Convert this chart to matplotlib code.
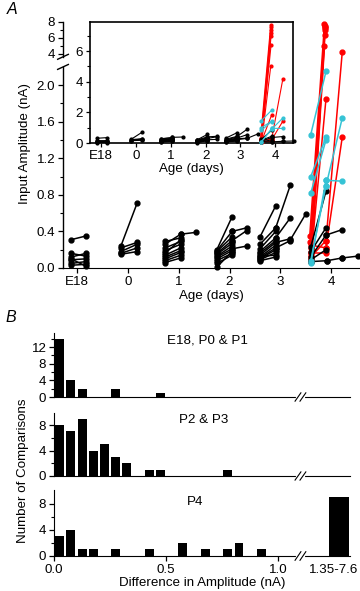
import numpy as np
import matplotlib
matplotlib.use('Agg')
import matplotlib.pyplot as plt
from matplotlib.transforms import offset_copy

plt.rcParams['font.family'] = ['Liberation Sans', 'DejaVu Sans']
plt.rcParams['font.size'] = 9.6

# Panel A: paired inputs, each entry is (age start, amp start, age end, amp end)
e18_pairs = [(-1.12, 0.31, -0.83, 0.35), (-1.12, 0.16, -0.83, 0.13), (-1.12, 0.12, -0.83, 0.16),
             (-1.12, 0.09, -0.83, 0.10), (-1.12, 0.05, -0.83, 0.07), (-1.12, 0.03, -0.83, 0.04),
             (-1.12, 0.10, -0.83, 0.02)]
p0_pairs = [(-0.14, 0.24, 0.18, 0.71), (-0.14, 0.22, 0.18, 0.28), (-0.14, 0.18, 0.18, 0.26),
            (-0.14, 0.16, 0.18, 0.22), (-0.14, 0.15, 0.18, 0.18)]
p1_pairs = [(0.73, 0.29, 1.04, 0.33), (0.73, 0.26, 1.04, 0.37), (0.73, 0.22, 1.04, 0.29),
            (0.73, 0.19, 1.04, 0.26), (0.73, 0.16, 1.04, 0.31), (0.73, 0.14, 1.04, 0.22),
            (0.73, 0.12, 1.04, 0.19), (0.73, 0.10, 1.04, 0.17), (0.73, 0.08, 1.04, 0.14),
            (0.73, 0.06, 1.04, 0.11), (1.04, 0.37, 1.34, 0.39)]
p2_pairs = [(1.75, 0.20, 2.05, 0.56), (1.75, 0.19, 2.05, 0.40), (1.75, 0.18, 2.05, 0.34),
            (1.75, 0.16, 2.05, 0.30), (1.75, 0.15, 2.05, 0.27), (1.75, 0.13, 2.05, 0.24),
            (1.75, 0.12, 2.05, 0.21), (1.75, 0.10, 2.05, 0.19), (1.75, 0.08, 2.05, 0.16),
            (1.75, 0.05, 2.05, 0.14), (1.75, 0.01, 2.05, 0.18), (2.05, 0.40, 2.34, 0.44),
            (2.05, 0.30, 2.34, 0.41), (2.05, 0.21, 2.34, 0.24)]
p3_pairs = [(2.6, 0.34, 2.91, 0.68), (2.6, 0.26, 2.91, 0.44), (2.6, 0.21, 2.91, 0.40),
            (2.6, 0.18, 2.91, 0.33), (2.6, 0.16, 2.91, 0.30), (2.6, 0.14, 2.91, 0.28),
            (2.6, 0.12, 2.91, 0.25), (2.6, 0.11, 2.91, 0.22), (2.6, 0.10, 2.91, 0.20),
            (2.6, 0.09, 2.91, 0.17), (2.6, 0.13, 2.91, 0.14), (2.6, 0.08, 2.91, 0.12),
            (2.91, 0.44, 3.2, 0.91), (2.91, 0.33, 3.2, 0.55), (2.91, 0.28, 3.2, 0.32),
            (2.91, 0.22, 3.2, 0.30), (3.2, 0.31, 3.5, 0.59)]
p4_black = [(3.6, 0.07, 3.92, 0.08), (3.92, 0.08, 4.22, 0.11), (4.22, 0.11, 4.53, 0.13),
            (3.6, 0.23, 3.9, 0.84), (3.9, 0.36, 4.22, 0.42), (3.6, 0.18, 3.9, 0.44),
            (3.6, 0.12, 3.9, 0.36), (3.6, 0.09, 3.9, 0.20)]
p4_red = [(3.58, 0.35, 3.87, 7.7), (3.59, 0.28, 3.88, 7.55), (3.6, 0.22, 3.88, 7.4),
          (3.6, 0.18, 3.88, 7.2), (3.61, 0.14, 3.88, 7.0), (3.6, 0.10, 3.88, 6.4),
          (3.61, 0.07, 3.87, 5.0), (3.62, 0.20, 3.9, 1.85), (3.9, 0.30, 4.22, 4.2),
          (3.9, 0.22, 4.22, 1.43), (3.6, 0.12, 3.9, 0.30), (3.6, 0.25, 3.9, 0.22),
          (3.6, 0.16, 3.9, 0.16)]
p4_cyan = [(3.6, 1.46, 3.9, 2.15), (3.6, 1.0, 3.9, 1.43), (3.6, 0.82, 3.9, 1.40),
           (3.6, 0.05, 3.9, 0.96), (3.9, 0.96, 4.22, 0.95), (3.9, 0.90, 4.22, 1.64),
           (3.6, 0.08, 3.9, 0.90)]

age_ticks = [-1, 0, 1, 2, 3, 4]
age_labels = ['E18', '0', '1', '2', '3', '4']

# Panel B: histograms of the difference in amplitude (bin centres, counts)
bins_p01 = [0.025, 0.075, 0.125, 0.275, 0.475]
counts_p01 = [14, 4, 2, 2, 1]
bins_p23 = [0.025, 0.075, 0.125, 0.175, 0.225, 0.275, 0.325, 0.425, 0.475, 0.775]
counts_p23 = [8, 7, 9, 4, 5, 3, 2, 1, 1, 1]
bins_p4 = [0.025, 0.075, 0.125, 0.175, 0.275, 0.425, 0.575, 0.675, 0.775, 0.825, 0.925]
counts_p4 = [3, 4, 1, 1, 1, 1, 2, 1, 1, 2, 1]
big_label = '1.35-7.6'
big_count_p4 = 9

RED = '#ff0000'
CYAN = '#35c3d5'


def fwd(y):
    y = np.asarray(y, dtype=float)
    return np.where(y <= 2.2, y, np.where(y < 4, 2.2 + (y - 2.2) * 0.079, 2.342 + (y - 4) * 0.0874))


def inv(u):
    u = np.asarray(u, dtype=float)
    return np.where(u <= 2.2, u, np.where(u < 2.342, 2.2 + (u - 2.2) / 0.079, 4 + (u - 2.342) / 0.0874))


def draw_pairs(ax, segs, color, ms, lw, z):
    for x0, y0, x1, y1 in segs:
        ax.plot([x0, x1], [y0, y1], '-o', color=color, mec=color, ms=ms, lw=lw,
                clip_on=False, zorder=z)


def draw_all(ax, ms, lw):
    for grp in [e18_pairs, p0_pairs, p1_pairs, p2_pairs, p3_pairs]:
        draw_pairs(ax, grp, 'black', ms, lw, 3)
    draw_pairs(ax, p4_red, RED, ms, lw, 3)
    draw_pairs(ax, p4_black, 'black', ms, lw, 4)
    draw_pairs(ax, p4_cyan, CYAN, ms, lw, 5)


fig = plt.figure(figsize=(3.6, 5.91), dpi=100)

# ---- main panel A ----
ax = fig.add_axes([63 / 360, 1 - 268 / 591, 297 / 360, 246 / 591])
ax.set_yscale('function', functions=(fwd, inv))
draw_all(ax, 3.5, 1.1)
ax.set_xlim(-1.28, 4.57)
ax.set_ylim(0, 8)
ax.set_xticks(age_ticks, labels=age_labels)
ax.set_yticks([0, 0.4, 0.8, 1.2, 1.6, 2.0, 4, 6, 8],
              labels=['0.0', '0.4', '0.8', '1.2', '1.6', '2.0', '4', '6', '8'])
ax.set_yticks([0.2, 0.6, 1.0, 1.4, 1.8, 5, 7], minor=True)
ax.tick_params(direction='out', length=3.5, width=0.9, pad=2)
ax.tick_params(which='minor', direction='out', length=2, width=0.8)
ax.set_xlabel('Age (days)', labelpad=2)
for s in ['top', 'right', 'left']:
    ax.spines[s].set_visible(False)
# broken left axis
ytr = ax.get_yaxis_transform()
ax.plot([0, 0], [0, 2.2], color='black', lw=1, transform=ytr, clip_on=False)
ax.plot([0, 0], [3.6, 8], color='black', lw=1, transform=ytr, clip_on=False)
top_u = float(fwd(8))
for v in (2.2, 3.6):
    f = float(fwd(v)) / top_u
    ax.plot([-0.018, 0.018], [f - 0.01, f + 0.01], color='black', lw=1,
            transform=ax.transAxes, clip_on=False)
fig.text(25 / 360, 1 - 143 / 591, 'Input Amplitude (nA)', rotation=90, ha='center', va='center')
fig.text(7 / 360, 1 - 9 / 591, 'A', style='italic', fontsize=11.5, ha='left', va='center')

# ---- inset ----
ins = fig.add_axes([90 / 360, 1 - 143 / 591, 203 / 360, 121 / 591])
draw_all(ins, 2, 0.8)
ins.set_xlim(-1.32, 4.51)
ins.set_ylim(0, 7.9)
ins.set_xticks(age_ticks, labels=age_labels)
ins.set_yticks([0, 2, 4, 6])
ins.set_yticks([1, 3, 5, 7], minor=True)
ins.tick_params(direction='out', length=3, width=0.9, pad=2)
ins.tick_params(which='minor', direction='out', length=2, width=0.8)
ins.set_xlabel('Age (days)', labelpad=1)
for s in ins.spines.values():
    s.set_linewidth(1.2)

# ---- panel B ----
boxes = [(333, 397), (413, 476), (490, 556)]
hists = [(bins_p01, counts_p01, 15.4, [0, 4, 8, 12], [2, 6, 10, 14], 'E18, P0 & P1', 0.52, 0.89),
         (bins_p23, counts_p23, 9.9, [0, 4, 8], [2, 6], 'P2 & P3', 0.505, 0.89),
         (bins_p4, counts_p4, 10.1, [0, 4, 8], [2, 6], 'P4', 0.476, 0.82)]
hax = []
for (top, bot), (bc, cnt, ymax, yt, ymt, title, tx, ty) in zip(boxes, hists):
    h = fig.add_axes([54 / 360, 1 - bot / 591, 296 / 360, (bot - top) / 591])
    h.bar(bc, cnt, width=0.04, color='black')
    h.set_xlim(0, 1.32)
    h.set_ylim(0, ymax)
    h.set_yticks(yt)
    h.set_yticks(ymt, minor=True)
    h.tick_params(direction='out', length=3.5, width=0.9, pad=2)
    h.tick_params(which='minor', direction='out', length=2, width=0.8)
    h.tick_params(axis='x', which='both', bottom=False, labelbottom=False)
    for s in ['top', 'right']:
        h.spines[s].set_visible(False)
    h.text(tx, ty, title, transform=h.transAxes, ha='center', va='center')
    # break marks on the x axis
    xtr = h.get_xaxis_transform()
    h.plot([1.088, 1.110], [0, 0], color='white', lw=3, transform=xtr, clip_on=False, zorder=5)
    for xb in (1.088, 1.110):
        h.plot([xb - 0.013, xb + 0.013], [-0.065, 0.065], color='black', lw=0.8,
               transform=xtr, clip_on=False, zorder=6)
    hax.append(h)

hb = hax[2]
hb.bar([1.27], [big_count_p4], width=0.09, color='black')
hb.tick_params(axis='x', which='major', bottom=True, labelbottom=True, direction='out', length=3.5)
hb.set_xticks([0, 0.5, 1.0], labels=['0.0', '0.5', '1.0'])
hb.text(1.355, 0, big_label, ha='right', va='top', clip_on=False,
        transform=offset_copy(hb.get_xaxis_transform(), fig=fig, y=-5.5, units='points'))
hb.set_xlabel('Difference in Amplitude (nA)', labelpad=1)
fig.text(23 / 360, 1 - 471 / 591, 'Number of Comparisons', rotation=90, ha='center', va='center')
fig.text(5 / 360, 1 - 317 / 591, 'B', style='italic', fontsize=11.5, ha='left', va='center')

fig.savefig('out.png', dpi=100)
